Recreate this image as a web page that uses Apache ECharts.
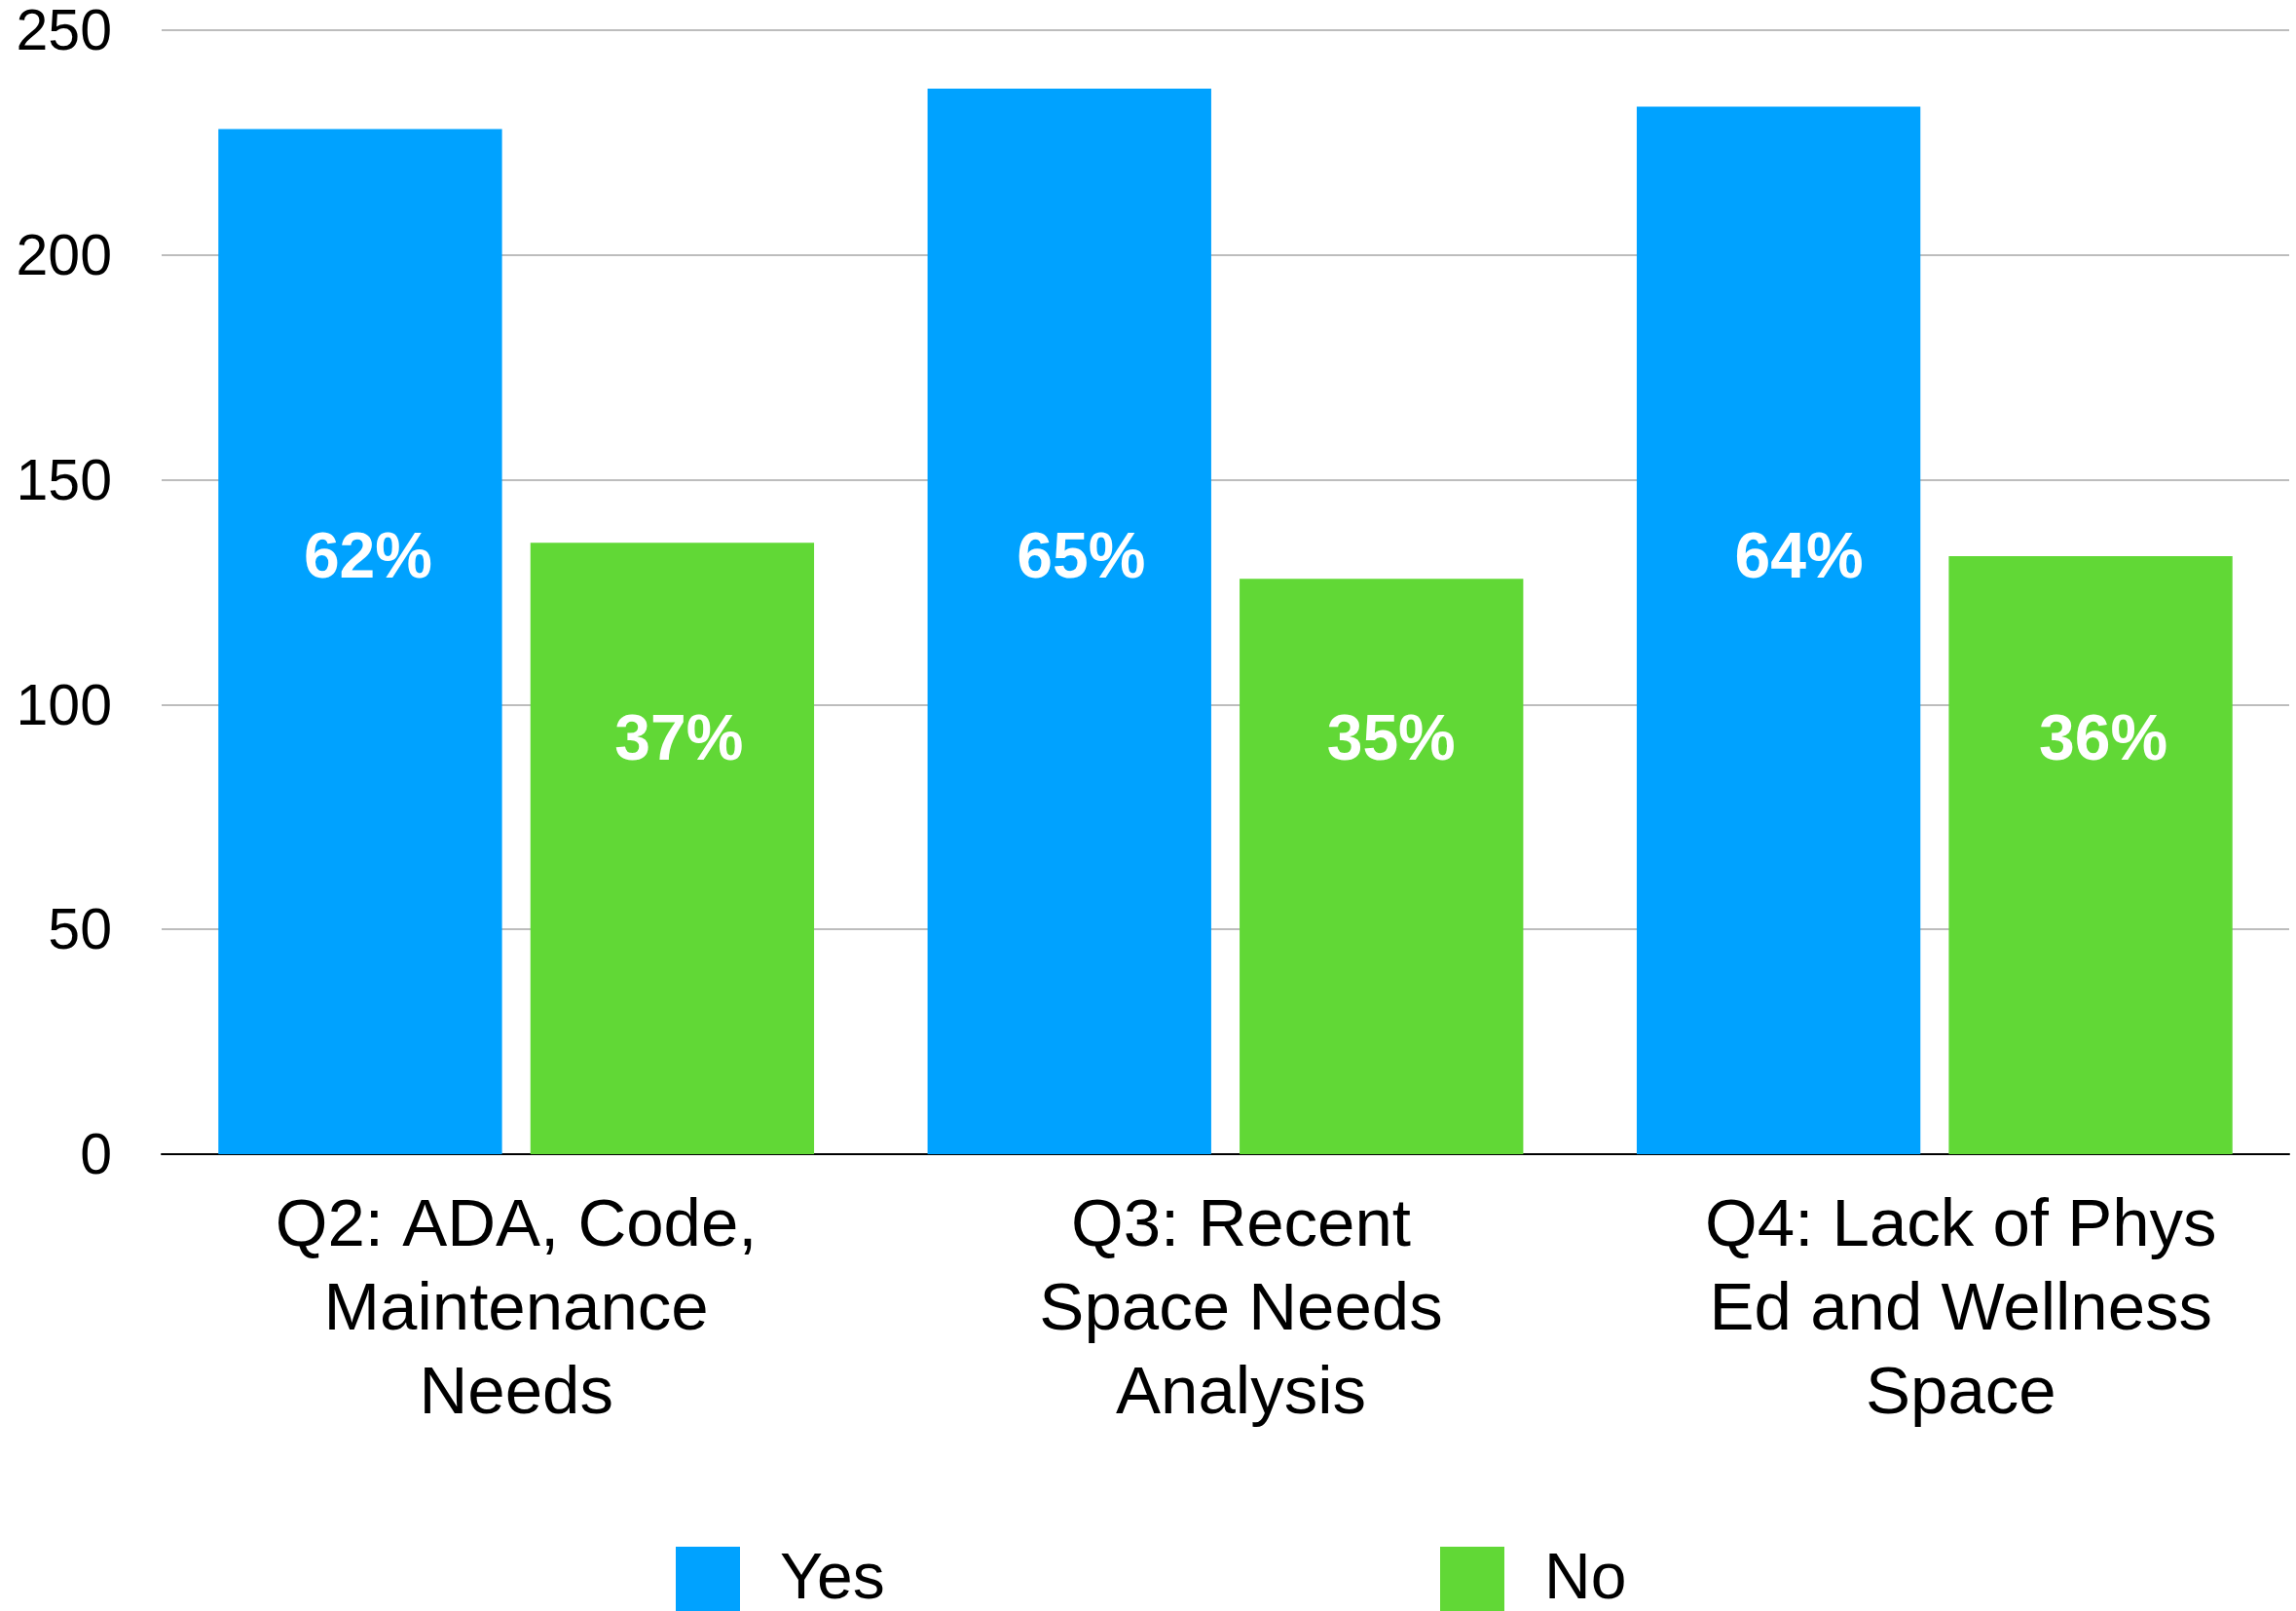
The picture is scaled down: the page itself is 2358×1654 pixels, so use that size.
<!DOCTYPE html>
<html>
<head>
<meta charset="utf-8">
<script src="https://cdn.jsdelivr.net/npm/echarts@6/dist/echarts.min.js"></script>
<style>
html,body{margin:0;padding:0;background:#fff;}
#chart{width:2358px;height:1654px;}
</style>
</head>
<body>
<div id="chart"></div>
<script>
const categories = [
  "Q2: ADA, Code,\nMaintenance\nNeeds",
  "Q3: Recent\nSpace Needs\nAnalysis",
  "Q4: Lack of Phys\nEd and Wellness\nSpace"
];
const yesValues = [228, 237, 233];
const noValues = [136, 128, 133];
const yesLabels = ["62%", "65%", "64%"];
const noLabels = ["37%", "35%", "36%"];
const yTicks = { min: 0, max: 250, interval: 50 };

// styling only (label nudges, px)
const catLabelShift = [0, 32, 54];
const yesLabelShift = [8, 12, 21];
const noLabelShift = [7, 10, 13];

const FONT = '"Liberation Sans", Arial, Helvetica, sans-serif';
const chart = echarts.init(document.getElementById('chart'), null, { renderer: 'canvas' });

const legendText = {
  fontFamily: FONT, fontSize: 66, color: '#000',
  padding: [0, 0, 0, 36], verticalAlign: 'top', lineHeight: 9
};

const labelBase = {
  show: true, position: 'insideBottom',
  fontFamily: FONT, fontSize: 66, fontWeight: 'bold', color: '#fff', lineHeight: 66
};

chart.setOption({
  animation: false,
  backgroundColor: '#fff',
  grid: { left: 166, right: 7, top: 31, bottom: 469, containLabel: false },
  legend: [
    { data: ['Yes'], left: 689, top: 1583, itemWidth: 66, itemHeight: 70, icon: 'rect',
      textStyle: legendText, selectedMode: false },
    { data: ['No'], left: 1474, top: 1583, itemWidth: 66, itemHeight: 70, icon: 'rect',
      textStyle: legendText, selectedMode: false }
  ],
  xAxis: {
    type: 'category',
    data: categories.map((c, i) => ({ value: c, textStyle: { padding: [0, 0, 0, catLabelShift[i]] } })),
    axisLine: { show: true, lineStyle: { color: '#000', width: 2 } },
    axisTick: { show: false },
    axisLabel: {
      fontFamily: FONT, fontSize: 69, lineHeight: 86, color: '#000',
      margin: 32, interval: 0, align: 'center'
    }
  },
  yAxis: {
    type: 'value',
    min: yTicks.min, max: yTicks.max, interval: yTicks.interval,
    axisLine: { show: false },
    axisTick: { show: false },
    splitLine: { show: true, lineStyle: { color: '#BDBDBD', width: 2 } },
    axisLabel: { fontFamily: FONT, fontSize: 59, color: '#000', margin: 51,
      verticalAlign: 'top', lineHeight: 8 }
  },
  series: [
    {
      name: 'Yes', type: 'bar',
      data: yesValues.map((v, i) => ({ value: v, label: { offset: [yesLabelShift[i], 0] } })),
      itemStyle: { color: '#00A2FF' },
      barGap: '10%', barCategoryGap: '16%',
      label: Object.assign({}, labelBase, { distance: 577, formatter: p => yesLabels[p.dataIndex] })
    },
    {
      name: 'No', type: 'bar',
      data: noValues.map((v, i) => ({ value: v, label: { offset: [noLabelShift[i], 0] } })),
      itemStyle: { color: '#61D836' },
      barGap: '10%', barCategoryGap: '16%',
      label: Object.assign({}, labelBase, { distance: 390, formatter: p => noLabels[p.dataIndex] })
    }
  ]
});
</script>
</body>
</html>
